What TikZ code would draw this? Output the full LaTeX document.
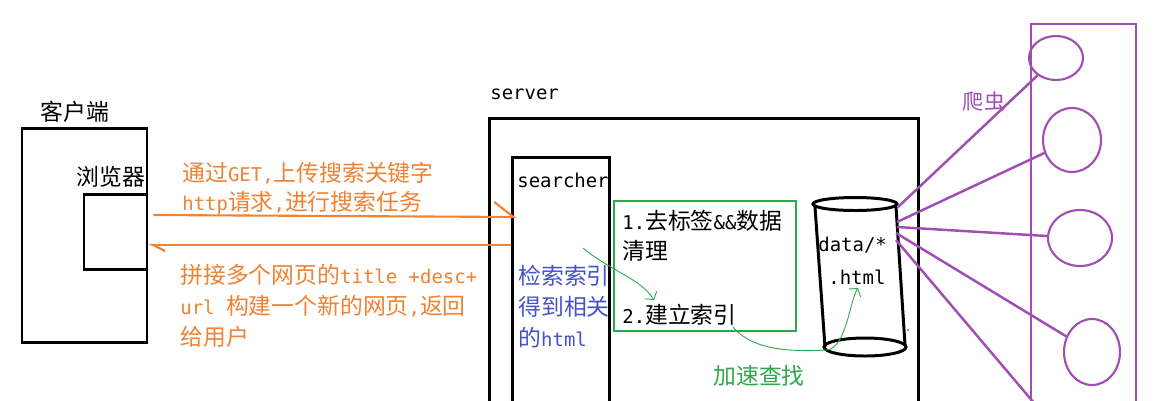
\documentclass[tikz,border=0pt]{standalone}
\usepackage{fontspec}
\setmainfont{Noto Sans CJK SC}
\newfontfamily\monofam[Scale=0.83]{DejaVu Sans Mono}
\newcommand{\tm}[1]{{\monofam #1}}
\usepackage{xcolor}
\usetikzlibrary{shapes.geometric, fit, calc, arrows.meta}
\definecolor{reqorange}{HTML}{F08232}
\definecolor{idxblue}{HTML}{4452C8}
\definecolor{stepgreen}{HTML}{2EA84A}
\definecolor{crawlpurple}{HTML}{A04DB4}
\tikzset{
	box/.style={draw, line width=1.7pt, inner sep=0pt},
	txt/.style={inner sep=0pt, font=\fontsize{13}{17.6}\selectfont},
	req/.style={draw=reqorange, line width=1.2pt},
	hint/.style={draw=stepgreen, line width=0.5pt, -{Straight Barb[length=3pt, width=8pt]}},
	crawl/.style={draw=crawlpurple, line width=1.4pt},
	site/.style={draw=crawlpurple, line width=1.2pt, ellipse, inner sep=0pt}
}

\begin{document}
\begin{tikzpicture}[x=0.02cm, y=-0.02cm]
				  \useasboundingbox (0,0) rectangle (1155,400);
				  \fill[white] (0,0) rectangle (1155,400);
				  \clip (0,0) rectangle (1155,400);
				  % client side
				  \node[box, fit={(22,128) (147,342)}] (client) {};
				  \node[box, fit={(84,194) (147,269)}] (browser) {};
				  \node[txt] at (75,112) {客户端};
				  \node[txt] at (111,177) {浏览器};
				  % server side
				  \node[box, fit={(489,118) (918,410)}] (server) {};
				  \node[box, fit={(512,157) (609,410)}] (searcher) {};
				  \node[box, draw=stepgreen, line width=1.4pt, fit={(614,201) (796,331)}] (clean) {};
				  \node[txt, anchor=west] at (490,94) {\tm{server}};
				  \node[txt, anchor=west] at (517,180) {\tm{searcher}};
				  \node[txt, text=idxblue, anchor=north west, align=left] at (518,265) {检索索引\\得到相关\\的\tm{html}};
				  \node[txt, anchor=north west, align=left, font=\fontsize{13}{17}\selectfont] (step1) at (622,210) {\tm{1.}去标签\tm{\&\&}数据\\清理};
				  \node[txt, anchor=west] (step2) at (622,315) {\tm{2.}建立索引};
				  % requests
				  \coordinate (up) at (0,215);
				  \coordinate (down) at (0,245);
				  \draw[req, -{Straight Barb[left, length=11pt, width=17pt]}] ($(browser.east |- up)+(5,0)$) -- ($(searcher.west |- up)+(6,2)$);
				  \draw[req, -{Straight Barb[left, length=7pt, width=7pt]}] (searcher.west |- down) -- (browser.east |- down);
				  \node[txt, text=reqorange, anchor=north west, align=left, font=\fontsize{13}{16.4}\selectfont] at (182,162) {通过\tm{GET,}上传搜索关键字\\\tm{http}请求\tm{,}进行搜索任务};
				  \node[txt, text=reqorange, anchor=north west, align=left] at (180,264) {拼接多个网页的\tm{title +desc+}\\\tm{url }构建一个新的网页\tm{,}返回\\给用户};
				  % data store
				  \draw[line width=1.7pt] (855,204) ellipse [x radius=42, y radius=6.5];
				  \draw[line width=1.7pt] (865,347) ellipse [x radius=41, y radius=9];
				  \draw[line width=1.7pt] (815,207) -- (825,347);
				  \draw[line width=1.7pt] (896,207) -- (905,345);
				  \node[txt, anchor=west] at (818,245) {\tm{data/*}};
				  \node[txt, anchor=west] at (828,277) {\tm{.html}};
				  \coordinate (g1) at (583,248);
				  \coordinate (g2) at (654,300);
				  \coordinate (g3) at (733,327);
				  \coordinate (g4) at (858,288);
				  \draw[hint] (g1) .. controls (612,272) and (640,278) .. (g2);
				  \draw[hint] (g3) .. controls (752,350) and (790,352) .. (827,350) .. controls (846,348) and (850,300) .. (g4);
				  \node[txt, text=stepgreen, anchor=west] at (713,376) {加速查找};
				  % crawler
				  \node[draw=crawlpurple, line width=1.1pt, inner sep=0pt, fit={(1031,24) (1136,410)}] (web) {};
				  \node[site, minimum width=1.08cm, minimum height=0.88cm] (site1) at (1056,58) {};
				  \node[site, minimum width=1.16cm, minimum height=1.28cm] (site2) at (1072,140) {};
				  \node[site, minimum width=1.28cm, minimum height=1.12cm] (site3) at (1080,238) {};
				  \node[site, minimum width=1.12cm, minimum height=1.32cm] (site4) at (1092,352) {};
				  \coordinate (site5) at (1040,410);
				  \coordinate (d1) at (898,207);
				  \coordinate (d2) at (897,222);
				  \coordinate (d3) at (897,227);
				  \coordinate (d4) at (896,233);
				  \coordinate (d5) at (896,240);
				  \draw[crawl] (d1) -- (site1);
				  \draw[crawl] (d2) -- (site2);
				  \draw[crawl] (d3) -- (site3);
				  \draw[crawl] (d4) -- (site4);
				  \draw[crawl] (d5) -- (site5);
				  \fill[crawlpurple] (908,330) circle (1.2);
				  \node[txt, text=crawlpurple, font=\fontsize{12}{14}\selectfont] at (984,102) {爬虫};
				\end{tikzpicture}
\end{document}
